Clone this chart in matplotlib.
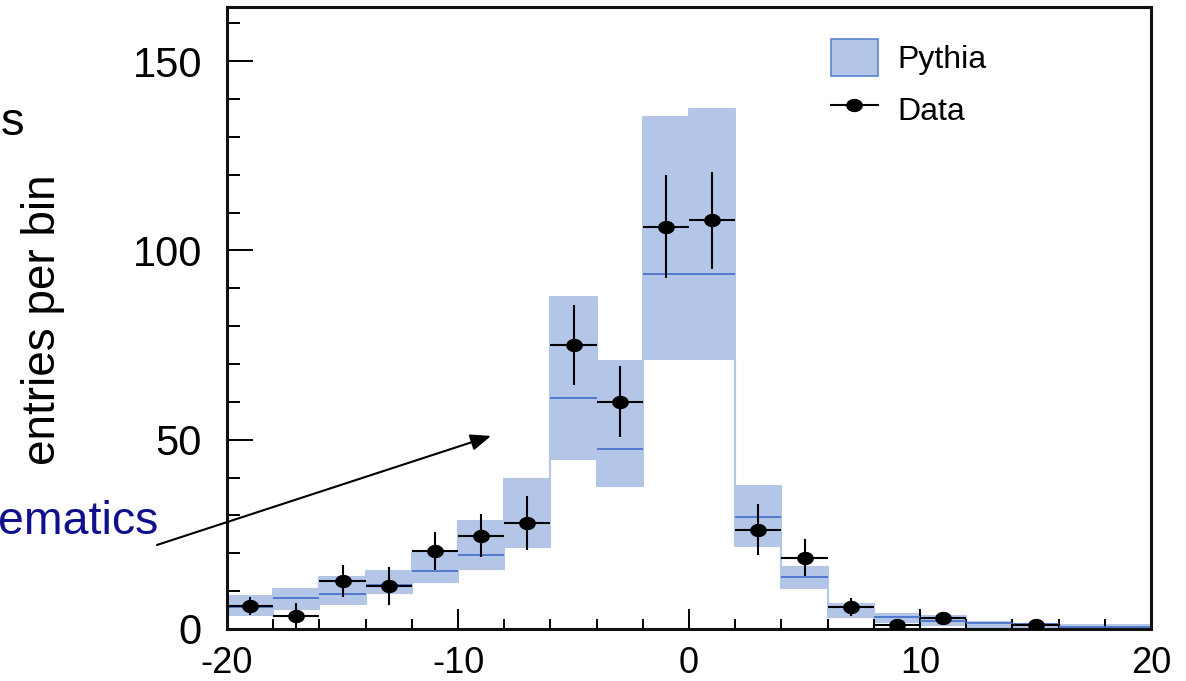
import numpy as np
import matplotlib
matplotlib.use("Agg")
import matplotlib.pyplot as plt
from matplotlib.patches import Patch
from matplotlib.lines import Line2D
from matplotlib.ticker import MultipleLocator

plt.rcParams["font.family"] = ["Liberation Sans", "DejaVu Sans"]
plt.rcParams["axes.unicode_minus"] = False

# Binning: 20 bins of width 2 from -20 to 20
bin_edges = np.arange(-20, 21, 2)
bin_centers = bin_edges[:-1] + 1

# Pythia prediction band (lower / central / upper value per bin)
pythia_low = [3.7, 5.3, 6.6, 9.5, 12.4, 15.9, 21.7, 45.0, 37.8, 71.4,
              71.4, 22.0, 10.8, 3.2, 1.9, 1.1, 0.5, 0.3, 0.2, 0.2]
pythia_mid = [5.8, 8.2, 9.3, 11.6, 15.3, 19.6, 28.0, 61.1, 47.6, 93.9,
              93.9, 29.6, 13.8, 5.8, 3.2, 2.1, 1.6, 1.2, 0.6, 0.6]
pythia_high = [8.7, 10.6, 13.8, 15.3, 20.4, 28.6, 39.7, 87.8, 70.9, 135.2,
               137.3, 37.8, 16.4, 6.6, 4.0, 3.4, 1.9, 1.3, 1.0, 1.0]

# Measured entries per bin and their errors (empty bins are NaN)
data_vals = [6.0, 3.5, 12.7, 11.4, 20.6, 24.6, 28.0, 75.0, 60.0, 106.3,
             108.0, 26.2, 18.8, 5.8, 1.0, 3.0, np.nan, 1.0, np.nan, np.nan]
data_errs = [2.4, 3.3, 4.2, 5.0, 5.0, 5.7, 7.1, 10.5, 9.4, 13.6,
             12.8, 6.7, 4.9, 2.4, 1.0, 1.4, np.nan, 1.0, np.nan, np.nan]

x_ticks = [-20, -10, 0, 10, 20]
y_ticks = [0, 50, 100, 150]

band_face = "#b3c6e7"
band_line = "#4a74c9"

W, H = 1186, 681
fig = plt.figure(figsize=(W / 100, H / 100), dpi=100)
ax = fig.add_axes([227 / W, (H - 629) / H, (1151 - 227) / W, (629 - 7) / H])

# Pythia band drawn as a stepped filled region
low_ext = np.append(pythia_low, pythia_low[-1])
high_ext = np.append(pythia_high, pythia_high[-1])
ax.fill_between(bin_edges, low_ext, high_ext, step="post",
                facecolor=band_face, edgecolor=band_face, lw=1.5, zorder=1)
ax.hlines(pythia_mid, bin_edges[:-1], bin_edges[1:], color=band_line,
          lw=1.3, zorder=2)

# Data points with elliptical markers
t = np.linspace(0, 2 * np.pi, 60)
ellipse = list(zip(np.cos(t), 0.78 * np.sin(t)))
ax.errorbar(bin_centers, data_vals, xerr=1.0, yerr=data_errs,
            fmt="none", ecolor="black", elinewidth=1.5, capsize=0, zorder=3)
ax.plot(bin_centers, data_vals, linestyle="none", marker=ellipse,
        markersize=11, color="black", zorder=4)

ax.set_xlim(-20, 20)
ax.set_ylim(0, 164.3)
ax.set_xticks(x_ticks)
ax.set_yticks(y_ticks)
ax.xaxis.set_minor_locator(MultipleLocator(2))
ax.yaxis.set_minor_locator(MultipleLocator(10))
ax.tick_params(axis="x", which="major", direction="in", length=14.5,
               width=1.4, labelsize=26, pad=12.3, top=False)
ax.tick_params(axis="x", which="minor", direction="in", length=7.2,
               width=1.4, top=False)
ax.tick_params(axis="y", which="major", direction="in", length=18.7,
               width=1.4, labelsize=30, pad=18, right=False)
ax.tick_params(axis="y", which="minor", direction="in", length=9.4,
               width=1.4, right=False)
for s in ax.spines.values():
    s.set_linewidth(2.2)
    s.set_color("#111111")

# Legend
handles = [
    Patch(facecolor=band_face, edgecolor="#5b84cf", lw=1.2),
    Line2D([], [], color="black", lw=1.5, marker=ellipse, markersize=11),
]
fig.legend(handles, ["Pythia", "Data"], loc="upper left",
           bbox_to_anchor=(831 / W, 1 - 39 / H), frameon=False,
           fontsize=23, borderpad=0, borderaxespad=0, handlelength=1.47,
           handleheight=1.42, handletextpad=0.62, labelspacing=0.45)

# Axis title and side annotations
fig.text(43 / W, 1 - 320 / H, "entries per bin", rotation=90,
         ha="center", va="center", fontsize=33)
fig.text(1 / W, 1 - 135 / H, "s", ha="left", va="baseline", fontsize=34)
fig.text(-2 / W, 1 - 534 / H, "ematics", ha="left", va="baseline",
         fontsize=33.5, color="#10108c")

ax.annotate("", xy=(-8.57, 51.0), xytext=(-23.03, 22.2),
            xycoords="data", textcoords="data", annotation_clip=False,
            arrowprops=dict(arrowstyle="-|>,head_length=0.62,head_width=0.25",
                            mutation_scale=20, lw=1.5, color="black",
                            shrinkA=0, shrinkB=0))

fig.savefig("out.png", dpi=100)
